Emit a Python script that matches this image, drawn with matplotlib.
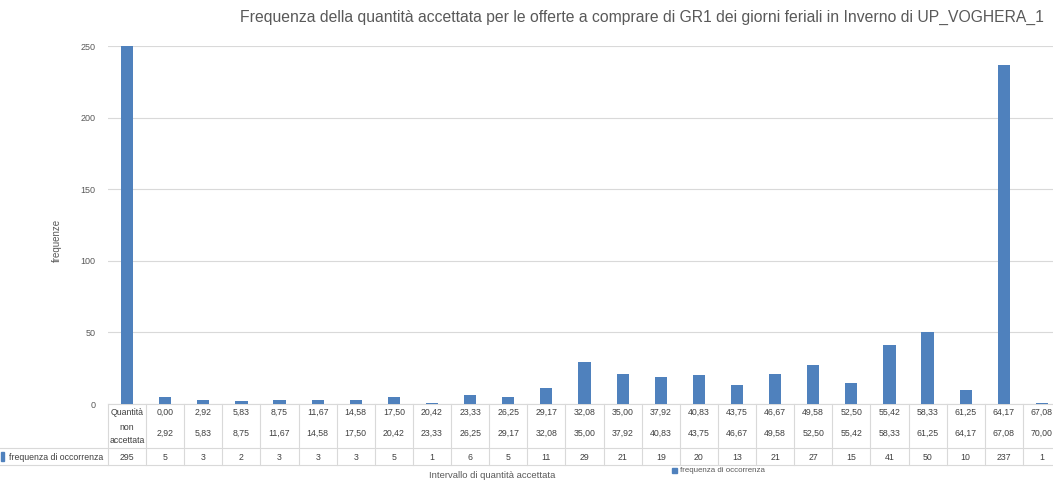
import matplotlib.pyplot as plt
from matplotlib.patches import Rectangle
from matplotlib.transforms import blended_transform_factory

# bins of accepted quantity (first one is "not accepted")
lowerBounds = ['Quantità', '0,00', '2,92', '5,83', '8,75', '11,67', '14,58', '17,50', '20,42',
               '23,33', '26,25', '29,17', '32,08', '35,00', '37,92', '40,83', '43,75', '46,67',
               '49,58', '52,50', '55,42', '58,33', '61,25', '64,17', '67,08']
upperBounds = ['non\naccettata', '2,92', '5,83', '8,75', '11,67', '14,58', '17,50', '20,42', '23,33',
               '26,25', '29,17', '32,08', '35,00', '37,92', '40,83', '43,75', '46,67', '49,58',
               '52,50', '55,42', '58,33', '61,25', '64,17', '67,08', '70,00']
frequencies = [295, 5, 3, 2, 3, 3, 3, 5, 1, 6, 5, 11, 29, 21, 19, 20, 13, 21, 27, 15, 41, 50, 10, 237, 1]
yTicks = [0, 50, 100, 150, 200, 250]

W, H = 1053, 486
barColor = '#4f81bd'
gridColor = '#d9d9d9'
textColor = '#595959'
plt.rcParams['font.family'] = ['Liberation Sans', 'DejaVu Sans']

fig = plt.figure(figsize=(W / 100, H / 100), dpi=100)
ax = fig.add_axes([108 / W, 1 - 404 / H, 953 / W, (404 - 46) / H])

positions = list(range(len(frequencies)))
ax.bar(positions, frequencies, width=0.32, color=barColor, zorder=3)
ax.set_xlim(-0.5, len(frequencies) - 0.5)
ax.set_ylim(0, 250)
ax.set_yticks(yTicks)
ax.set_yticklabels([str(t) for t in yTicks], fontsize=6.5, color=textColor)
ax.tick_params(axis='y', length=0, pad=9)
ax.set_xticks([])
ax.grid(axis='y', color=gridColor, linewidth=0.8, zorder=0)
for s in ax.spines.values():
    s.set_visible(False)

fig.text(57 / W, 1 - 240 / H, 'frequenze', rotation=90, ha='center', va='center',
         fontsize=7, color=textColor)
fig.text(642 / W, 1 - 17 / H,
         'Frequenza della quantità accettata per le offerte a comprare di GR1 dei giorni feriali in Inverno di UP_VOGHERA_1',
         ha='center', va='center', fontsize=11.3, color=textColor)

# data table under the axis
tr = blended_transform_factory(ax.transData, fig.transFigure)
def fy(py):
    return 1 - py / H

tableTop, rowSep, tableBottom = 404, 448, 465
n = len(frequencies)
cellText = '#404040'
ax.plot([-0.5, n - 0.5], [fy(tableTop)] * 2, transform=tr, color=gridColor, lw=0.8, clip_on=False)
for py in (rowSep, tableBottom):
    fig.add_artist(plt.Line2D([0, 1.05], [fy(py)] * 2, color=gridColor, lw=0.8))
for i in range(n + 1):
    ax.plot([i - 0.5, i - 0.5], [fy(tableTop), fy(tableBottom)], transform=tr,
            color=gridColor, lw=0.8, clip_on=False)

for i in positions:
    ax.text(i, fy(412), lowerBounds[i], transform=tr, ha='center', va='center', fontsize=6.3, color=cellText)
    if i == 0:
        ax.text(i, fy(434), upperBounds[i], transform=tr, ha='center', va='center', fontsize=6.3,
                color=cellText, linespacing=1.5)
    else:
        ax.text(i, fy(433), upperBounds[i], transform=tr, ha='center', va='center', fontsize=6.3, color=cellText)
    ax.text(i, fy(457), str(frequencies[i]), transform=tr, ha='center', va='center', fontsize=6.3, color=cellText)

fig.add_artist(Rectangle((1 / W, fy(461)), 3 / W, 9 / H, color=barColor, transform=fig.transFigure))
fig.text(9 / W, fy(457), 'frequenza di occorrenza', ha='left', va='center', fontsize=6.3, color=cellText)

fig.text(492 / W, fy(475), 'Intervallo di quantità accettata', ha='center', va='center',
         fontsize=6.8, color=textColor)
fig.add_artist(Rectangle((672 / W, fy(473)), 5 / W, 5 / H, color=barColor, transform=fig.transFigure))
fig.text(680 / W, fy(470.5), 'frequenza di occorrenza', ha='left', va='center', fontsize=5.7, color=textColor)

fig.savefig('out.png', dpi=100)
